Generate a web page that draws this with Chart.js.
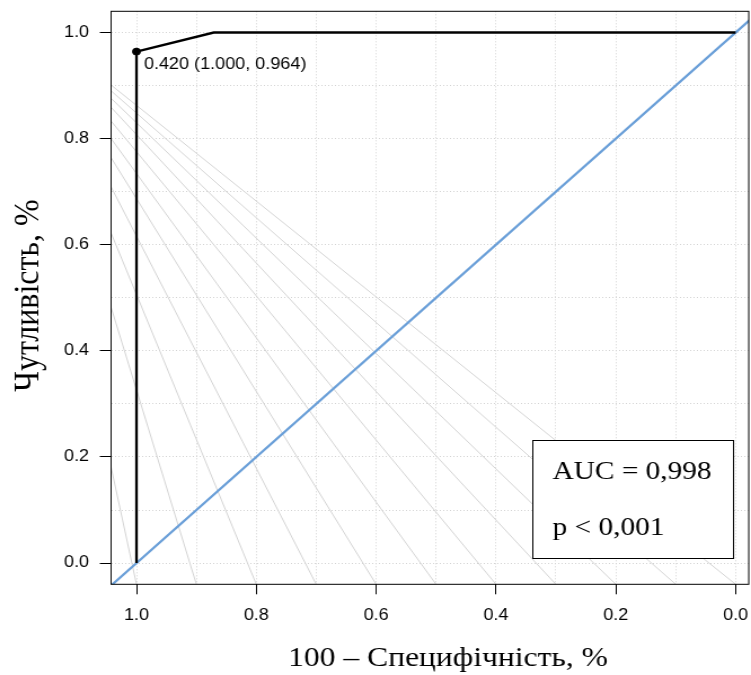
<!DOCTYPE html>
<html>
<head>
    <title>ROC</title>
    <style>
        body {
            margin: 0;
            padding: 0;
            background-color: #ffffff;
            overflow: hidden;
        }

        /* the plot is drawn with equal units on both axes, then widened to the page */
        #wrap {
            width: 666px;
            height: 675px;
            transform: scaleX(1.12763);
            transform-origin: 0 0;
        }
    </style>
    <script src="https://cdn.jsdelivr.net/npm/chart.js"></script>
</head>
<body>
<div id="wrap">
    <canvas id="roc-chart" width="666" height="675"></canvas>
</div>

<script>
    // ROC curve: specificity (x, reversed) against sensitivity (y)
    var rocSpec = [1.000, 1.000, 0.871, 0.000];
    var rocSens = [0.000, 0.964, 1.000, 1.000];

    // best threshold and its coordinates
    var bestThreshold = 0.420;
    var bestSpec = 1.000;
    var bestSens = 0.964;

    var aucLabel = 'AUC = 0,998';
    var pLabel = 'p < 0,001';

    // light guide lines: sensitivity where each one leaves the left frame,
    // and specificity where it meets the bottom frame
    var fanLeftSens = [0.901, 0.890, 0.876, 0.859, 0.833, 0.800, 0.764, 0.709, 0.622, 0.482, 0.181];
    var fanBottomSpec = [0.0, 0.1, 0.2, 0.3, 0.4, 0.5, 0.6, 0.7, 0.8, 0.9, 1.0];

    // grid every 0.1, labels every 0.2
    var gridValues = [0, 0.1, 0.2, 0.3, 0.4, 0.5, 0.6, 0.7, 0.8, 0.9, 1.0];
    var tickLabels = ['0.0', '0.2', '0.4', '0.6', '0.8', '1.0'];

    var xTitle = '100 \u2013 Специфічність, %';
    var yTitle = 'Чутливість, %';

    // axis limits
    var xMin = -0.0219, xMax = 1.0424;
    var yMin = -0.04, yMax = 1.04;

    function labelFor(v) {
        var s = v.toFixed(1);
        return tickLabels.indexOf(s) >= 0 ? s : '';
    }

    function tickColorFor(ctx) {
        if (!ctx.tick) return 'rgba(0,0,0,0)';
        return labelFor(ctx.tick.value) ? '#000000' : 'rgba(0,0,0,0)';
    }

    // keep the plot area exactly where the layout padding puts it
    function noLabelPadding(scale) {
        scale.paddingTop = 0;
        scale.paddingBottom = 0;
        scale.paddingLeft = 0;
        scale.paddingRight = 0;
    }

    var datasets = [];

    datasets.push({
        label: 'best',
        data: [{x: bestSpec, y: bestSens}],
        showLine: false,
        pointRadius: 3.5,
        pointBackgroundColor: '#000000',
        pointBorderColor: '#000000',
        clip: false
    });

    datasets.push({
        label: 'ROC',
        data: rocSpec.map(function (s, i) { return {x: s, y: rocSens[i]}; }),
        showLine: true,
        borderColor: '#000000',
        borderWidth: 2.3,
        pointRadius: 0,
        tension: 0,
        clip: 0
    });

    // chance line sens = 1 - spec, running past the frame on both ends
    datasets.push({
        label: 'chance',
        data: [{x: 1.2, y: -0.2}, {x: -0.2, y: 1.2}],
        showLine: true,
        borderColor: '#6a9fd8',
        borderWidth: 2.2,
        pointRadius: 0,
        clip: 0
    });

    for (var i = 0; i < fanLeftSens.length; i++) {
        datasets.push({
            label: 'guide' + i,
            data: [{x: xMax, y: fanLeftSens[i]}, {x: fanBottomSpec[i], y: yMin}],
            showLine: true,
            borderColor: '#d4d4d4',
            borderWidth: 1,
            pointRadius: 0,
            clip: 0
        });
    }

    // frame, annotations, AUC box and axis titles
    var extrasPlugin = {
        id: 'extras',
        afterDatasetsDraw: function (chart) {
            var ctx = chart.ctx;
            var a = chart.chartArea;
            var xs = chart.scales.x, ys = chart.scales.y;

            ctx.save();

            // threshold label beside the point
            var px = xs.getPixelForValue(bestSpec);
            var py = ys.getPixelForValue(bestSens);
            ctx.fillStyle = '#000000';
            ctx.font = '16px "Liberation Sans"';
            ctx.textAlign = 'left';
            ctx.textBaseline = 'alphabetic';
            ctx.fillText(bestThreshold.toFixed(3) + ' (' + bestSpec.toFixed(3) + ', ' + bestSens.toFixed(3) + ')', px + 6.6, py + 17);

            // AUC box in the lower right corner
            var bw = 178, bh = 118;
            var bx = a.right - 14 - bw;
            var by = a.bottom - 26.3 - bh;
            ctx.fillStyle = '#ffffff';
            ctx.fillRect(bx, by, bw, bh);
            ctx.strokeStyle = '#000000';
            ctx.lineWidth = 1;
            ctx.strokeRect(Math.round(bx) + 0.5, Math.round(by) + 0.5, Math.round(bw), Math.round(bh));
            ctx.fillStyle = '#000000';
            ctx.font = '26px "Liberation Serif"';
            ctx.fillText(aucLabel, bx + 18, by + 39);
            ctx.fillText(pLabel, bx + 18, by + 95);

            // plot frame
            ctx.strokeStyle = '#000000';
            ctx.lineWidth = 1;
            ctx.strokeRect(a.left, a.top, a.right - a.left, a.bottom - a.top);

            ctx.restore();
        },
        afterDraw: function (chart) {
            var ctx = chart.ctx;
            ctx.save();
            ctx.fillStyle = '#000000';
            ctx.textAlign = 'center';
            ctx.textBaseline = 'alphabetic';
            ctx.font = '28px "Liberation Serif"';
            ctx.fillText(xTitle, 397.3, 666);

            ctx.font = '32px "Liberation Serif"';
            ctx.translate(33.5, 295.5);
            ctx.rotate(-Math.PI / 2);
            ctx.fillText(yTitle, 0, 0);
            ctx.restore();
        }
    };

    var ctx = document.getElementById('roc-chart').getContext('2d');
    var rocChart = new Chart(ctx, {
        type: 'scatter',
        data: {datasets: datasets},
        options: {
            responsive: false,
            animation: false,
            devicePixelRatio: 1,
            layout: {
                autoPadding: false,
                padding: {left: 0, right: 2, top: 11.3, bottom: 0}
            },
            plugins: {
                legend: {display: false},
                tooltip: {enabled: false}
            },
            scales: {
                x: {
                    type: 'linear',
                    reverse: true,
                    min: xMin,
                    max: xMax,
                    afterBuildTicks: function (scale) {
                        scale.ticks = gridValues.map(function (v) { return {value: v}; });
                    },
                    afterFit: function (scale) {
                        scale.height = 90.7;
                        noLabelPadding(scale);
                    },
                    grid: {
                        color: '#d3d3d3',
                        lineWidth: 1,
                        tickLength: 10,
                        tickWidth: 1,
                        tickColor: tickColorFor
                    },
                    border: {display: false, dash: [1, 2]},
                    ticks: {
                        callback: function (v) { return labelFor(v); },
                        font: {family: 'Liberation Sans', size: 16},
                        color: '#000000',
                        padding: 12,
                        maxRotation: 0,
                        autoSkip: false
                    }
                },
                y: {
                    type: 'linear',
                    min: yMin,
                    max: yMax,
                    afterBuildTicks: function (scale) {
                        scale.ticks = gridValues.map(function (v) { return {value: v}; });
                    },
                    afterFit: function (scale) {
                        scale.width = 98.5;
                        noLabelPadding(scale);
                    },
                    grid: {
                        color: '#d3d3d3',
                        lineWidth: 1,
                        tickLength: 10,
                        tickWidth: 1,
                        tickColor: tickColorFor
                    },
                    border: {display: false, dash: [1, 2]},
                    ticks: {
                        callback: function (v) { return labelFor(v); },
                        font: {family: 'Liberation Sans', size: 16},
                        color: '#000000',
                        padding: 9.5,
                        autoSkip: false
                    }
                }
            }
        },
        plugins: [extrasPlugin]
    });
</script>
</body>
</html>
